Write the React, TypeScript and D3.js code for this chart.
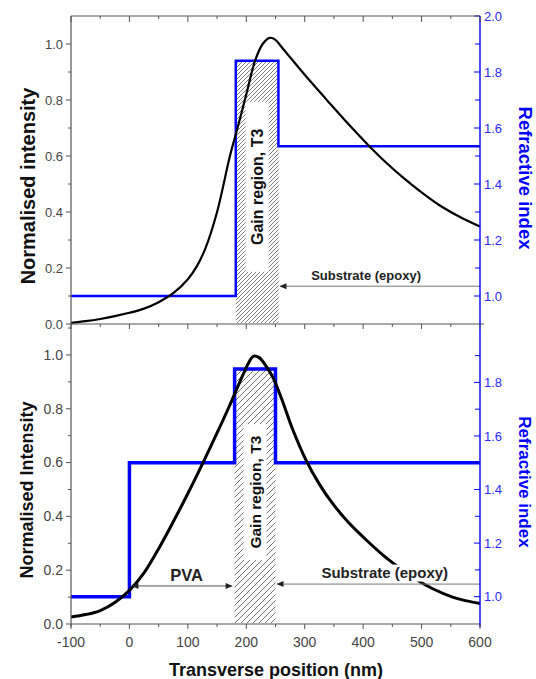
import React from 'react'
import * as d3 from 'd3'

const W = 536
const H = 679
const FONT = "Arial, 'Liberation Sans', Helvetica, sans-serif"
const BLUE = '#0000ff'

// shared x axis (nm)
const xDomain = [-100, 600]
const xMajor = [-100, 0, 100, 200, 300, 400, 500, 600]
const xMinor = [-50, 50, 150, 250, 350, 450, 550]

// top panel: intensity profile
const topPos = [-100, -75, -50, -25, 0, 25, 50, 75, 100, 115, 130, 150, 172, 185, 200, 215, 228, 240, 250, 260, 280, 300, 340, 370, 406, 440, 470, 500, 530, 565, 600]
const topIntensity = [0.004, 0.01, 0.018, 0.028, 0.04, 0.055, 0.078, 0.11, 0.16, 0.205, 0.27, 0.4, 0.6, 0.7, 0.82, 0.94, 1.0, 1.022, 1.015, 0.99, 0.94, 0.89, 0.795, 0.725, 0.645, 0.575, 0.52, 0.47, 0.425, 0.383, 0.348]
// top panel: refractive index layers
const topEdges = [-100, 182, 255, 600]
const topIndex = [1.0, 1.84, 1.535]

// bottom panel: intensity profile
const botPos = [-100, -75, -50, -25, 0, 25, 50, 75, 100, 126, 150, 169, 181, 195, 205, 212, 222, 235, 246, 260, 280, 302, 325, 347, 375, 404, 433, 460, 490, 520, 553, 575, 600]
const botIntensity = [0.026, 0.035, 0.05, 0.08, 0.125, 0.19, 0.28, 0.38, 0.485, 0.6, 0.71, 0.8, 0.86, 0.93, 0.975, 0.995, 0.99, 0.955, 0.915, 0.84, 0.72, 0.61, 0.52, 0.45, 0.377, 0.315, 0.258, 0.212, 0.166, 0.13, 0.1, 0.087, 0.076]
// bottom panel: refractive index layers
const botEdges = [-100, 0, 180, 250, 600]
const botIndex = [1.0, 1.5, 1.85, 1.5]

const leftMajor = [0, 0.2, 0.4, 0.6, 0.8, 1.0]
const leftMinor = [0.1, 0.3, 0.5, 0.7, 0.9, 1.1]
const topRightMajor = [1.0, 1.2, 1.4, 1.6, 1.8, 2.0]
const botRightMajor = [1.0, 1.2, 1.4, 1.6, 1.8]
const rightMinor = [0.9, 1.1, 1.3, 1.5, 1.7, 1.9]

const panels = [
  {
    id: 'top',
    y0: 16,
    y1: 324,
    leftDomain: [0, 1.1],
    rightDomain: [0.9, 2.0],
    pos: topPos,
    intensity: topIntensity,
    edges: topEdges,
    index: topIndex,
    gain: [topEdges[1], topEdges[2]],
    rightMajor: topRightMajor,
    leftTitle: 'Normalised intensity',
    leftTitleSize: 20,
    leftTitleX: 35,
    rightTitleSize: 18.5,
    tickSize: 13,
    gainFont: 16,
    boxH: 170,
    hatchGap: 4,
    hatchColor: '#555',
    curveW: 2.2,
    stepW: 2.5,
    substrateY: 1.035,
    substrateX: 405,
    substrateFont: 13,
    pva: false
  },
  {
    id: 'bot',
    y0: 324,
    y1: 624,
    leftDomain: [0, 1.115],
    rightDomain: [0.898, 2.018],
    pos: botPos,
    intensity: botIntensity,
    edges: botEdges,
    index: botIndex,
    gain: [botEdges[2], botEdges[3]],
    rightMajor: botRightMajor,
    leftTitle: 'Normalised Intensity',
    leftTitleSize: 18,
    leftTitleX: 33,
    rightTitleSize: 17,
    tickSize: 14,
    gainFont: 15.5,
    boxH: 136,
    hatchGap: 6,
    hatchColor: '#444',
    curveW: 3,
    stepW: 3.5,
    substrateY: 1.047,
    substrateX: 437,
    substrateFont: 15,
    pva: true
  }
]

const x = d3.scaleLinear().domain(xDomain).range([71, 480])

const fmt = d3.format('.1f')

function Panel({ p }) {
  const yL = d3.scaleLinear().domain(p.leftDomain).range([p.y1, p.y0])
  const yR = d3.scaleLinear().domain(p.rightDomain).range([p.y1, p.y0])

  const curve = d3
    .line()
    .x((d) => x(d[0]))
    .y((d) => yL(d[1]))
    .curve(d3.curveCatmullRom.alpha(0.5))
  const curvePts = p.pos.map((v, i) => [v, p.intensity[i]])

  const step = d3
    .line()
    .x((d) => x(d[0]))
    .y((d) => yR(d[1]))
    .curve(d3.curveStepAfter)
  const stepPts = p.index.map((v, i) => [p.edges[i], v])
  stepPts.push([p.edges[p.edges.length - 1], p.index[p.index.length - 1]])

  const gx0 = x(p.gain[0])
  const gx1 = x(p.gain[1])
  const gainTop = yR(d3.max(p.index))
  const gCx = (gx0 + gx1) / 2
  const gCy = yL(0.49)

  const subY = yR(p.substrateY)
  const subTextY = subY - 6
  const subTextW = p.substrateFont * 8.5

  const pvaY = yR(1.04)

  return (
    <g>
      {/* hatched gain region */}
      <rect x={gx0} y={gainTop} width={gx1 - gx0} height={p.y1 - gainTop - 1} fill={`url(#hatch-${p.id})`} />
      <rect x={gCx - 11.5} y={gCy - p.boxH / 2} width={23} height={p.boxH} fill='#fff' />
      <text
        transform={`translate(${gCx + 6},${gCy}) rotate(-90)`}
        textAnchor='middle'
        fontSize={p.gainFont}
        fontWeight='bold'
        fill='#111'
      >
        Gain region, T3
      </text>

      {/* refractive index */}
      <path d={step(stepPts)} fill='none' stroke={BLUE} strokeWidth={p.stepW} />
      {/* intensity */}
      <path d={curve(curvePts)} fill='none' stroke='#000' strokeWidth={p.curveW} />

      {/* substrate annotation */}
      <rect x={x(p.substrateX) - subTextW / 2 - 2} y={subTextY - p.substrateFont * 0.9} width={subTextW + 4} height={p.substrateFont + 2} fill='#fff' />
      <text x={x(p.substrateX)} y={subTextY} textAnchor='middle' fontSize={p.substrateFont} fontWeight='bold' fill='#222'>
        Substrate (epoxy)
      </text>
      <line x1={gx1 + 2} x2={480} y1={subY} y2={subY} stroke='#777' strokeWidth={1} />
      <path d={`M${gx1 + 1},${subY} l7,-3 l0,6 z`} fill='#222' />

      {p.pva && (
        <g>
          <text x={x(98)} y={pvaY - 5} textAnchor='middle' fontSize={16.5} fontWeight='bold' fill='#222'>
            PVA
          </text>
          <line x1={x(0) + 3} x2={gx0 - 3} y1={pvaY} y2={pvaY} stroke='#555' strokeWidth={1} />
          <path d={`M${x(0) + 2},${pvaY} l7,-3 l0,6 z`} fill='#222' />
          <path d={`M${gx0 - 2},${pvaY} l-7,-3 l0,6 z`} fill='#222' />
        </g>
      )}

      {/* left axis ticks and labels */}
      {leftMajor.map((v) => (
        <g key={'lm' + v}>
          <line x1={66} x2={71} y1={yL(v)} y2={yL(v)} stroke='#555' />
          <text x={63} y={yL(v)} dy='0.35em' textAnchor='end' fontSize={p.tickSize} fill='#444'>
            {fmt(v)}
          </text>
        </g>
      ))}
      {leftMinor
        .filter((v) => yL(v) > p.y0 + 1)
        .map((v) => (
          <line key={'ln' + v} x1={68} x2={71} y1={yL(v)} y2={yL(v)} stroke='#555' />
        ))}

      {/* right axis ticks and labels */}
      {p.rightMajor.map((v) => (
        <g key={'rm' + v}>
          <line x1={474} x2={480} y1={yR(v)} y2={yR(v)} stroke={BLUE} />
          <text x={484} y={yR(v)} dy='0.35em' fontSize={13} fill='#2a2aff'>
            {fmt(v)}
          </text>
        </g>
      ))}
      {rightMinor
        .filter((v) => yR(v) < p.y1 - 1)
        .map((v) => (
          <line key={'rn' + v} x1={475} x2={480} y1={yR(v)} y2={yR(v)} stroke={BLUE} />
        ))}

      <text
        transform={`translate(${p.leftTitleX},${(p.y0 + p.y1) / 2 + 16}) rotate(-90)`}
        textAnchor='middle'
        fontSize={p.leftTitleSize}
        fontWeight='bold'
        fill='#111'
      >
        {p.leftTitle}
      </text>
      <text
        transform={`translate(519,${(p.y0 + p.y1) / 2 + 8}) rotate(90)`}
        textAnchor='middle'
        fontSize={p.rightTitleSize}
        fontWeight='bold'
        fill={BLUE}
      >
        Refractive index
      </text>
    </g>
  )
}

function XTicks({ y, major, minor }) {
  return (
    <g>
      {xMajor.map((v) => (
        <line key={'xm' + v} x1={x(v)} x2={x(v)} y1={y} y2={y + major} stroke='#555' />
      ))}
      {xMinor.map((v) => (
        <line key={'xn' + v} x1={x(v)} x2={x(v)} y1={y} y2={y + minor} stroke='#555' />
      ))}
    </g>
  )
}

export default function App() {
  return (
    <svg
      width={W}
      height={H}
      style={{ position: 'absolute', left: 0, top: 0, background: '#fff' }}
      fontFamily={FONT}
    >
      <defs>
        {panels.map((p) => {
          const g = p.hatchGap
          return (
            <pattern key={p.id} id={`hatch-${p.id}`} patternUnits='userSpaceOnUse' width={g} height={g}>
              <path
                d={`M${-g / 2},${g / 2} L${g / 2},${-g / 2} M0,${g} L${g},0 M${g / 2},${g * 1.5} L${g * 1.5},${g / 2}`}
                stroke={p.hatchColor}
                strokeWidth={0.75}
              />
            </pattern>
          )
        })}
      </defs>
      <rect width={W} height={H} fill='#fff' />

      {panels.map((p) => (
        <Panel key={p.id} p={p} />
      ))}

      {/* frame lines */}
      <line x1={71} x2={480} y1={16} y2={16} stroke='#555' strokeWidth={1.2} />
      <line x1={71} x2={484} y1={324} y2={324} stroke='#555' strokeWidth={1.2} />
      <line x1={71} x2={480} y1={624} y2={624} stroke='#555' strokeWidth={1.2} />
      <line x1={71} x2={71} y1={16} y2={627} stroke='#555' strokeWidth={1.2} />
      <line x1={480} x2={480} y1={16} y2={627} stroke={BLUE} strokeWidth={1.4} />

      <XTicks y={16} major={6} minor={3} />
      <XTicks y={324} major={5} minor={3} />
      <XTicks y={624} major={5} minor={3} />

      {xMajor.map((v) => (
        <text key={'xl' + v} x={x(v)} y={647} textAnchor='middle' fontSize={14} fill='#444'>
          {v}
        </text>
      ))}
      <text x={276} y={676} textAnchor='middle' fontSize={18} fontWeight='bold' fill='#111'>
        Transverse position (nm)
      </text>
    </svg>
  )
}
